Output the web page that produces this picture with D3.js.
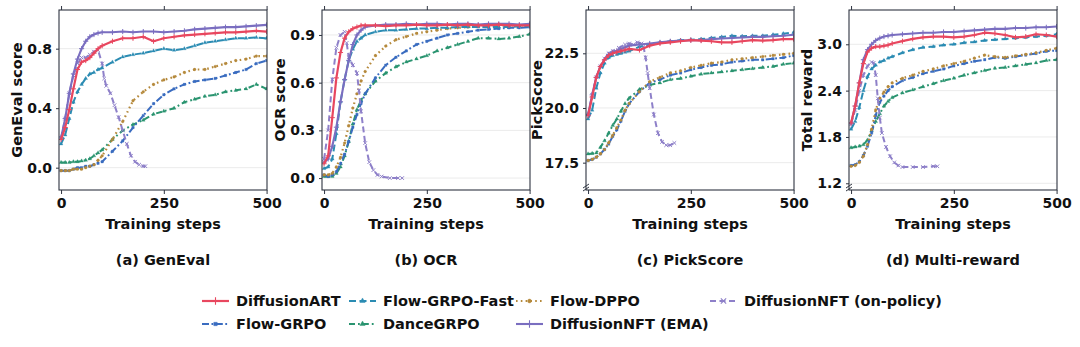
<!DOCTYPE html>
<html>
<head>
<meta charset="utf-8">
<script src="https://cdn.jsdelivr.net/npm/d3@7"></script>
<style>
  body { margin: 0; background: #fff; }
  svg { display: block; }
  text { font-family: "DejaVu Sans", sans-serif; font-weight: bold; fill: #111; }
</style>
</head>
<body>
<svg id="chart" width="1080" height="347"></svg>
<script>
// Training curves - 4 panels
const steps = [0, 10, 20, 30, 40, 50, 60, 70, 80, 90, 100, 125, 150, 175, 200, 225, 250, 275, 300, 325, 350, 375, 400, 425, 450, 475, 500];
const xTicks = [0, 250, 500];

// (a) GenEval
const artA   = [0.19, 0.27, 0.39, 0.53, 0.66, 0.71, 0.72, 0.74, 0.77, 0.80, 0.82, 0.85, 0.87, 0.87, 0.88, 0.85, 0.87, 0.88, 0.89, 0.895, 0.90, 0.905, 0.91, 0.91, 0.915, 0.92, 0.915];
const fastA  = [0.16, 0.22, 0.33, 0.44, 0.51, 0.56, 0.60, 0.63, 0.64, 0.66, 0.67, 0.71, 0.745, 0.76, 0.77, 0.785, 0.80, 0.79, 0.80, 0.82, 0.84, 0.85, 0.86, 0.87, 0.87, 0.875, 0.87];
const dppoA  = [-0.02, -0.02, -0.02, -0.01, -0.01, -0.01, 0.0, 0.01, 0.02, 0.05, 0.08, 0.19, 0.31, 0.45, 0.51, 0.56, 0.59, 0.61, 0.64, 0.66, 0.66, 0.68, 0.70, 0.72, 0.73, 0.75, 0.75];
const grpoA  = [-0.02, -0.02, -0.02, -0.01, 0.0, 0.0, 0.01, 0.01, 0.02, 0.03, 0.04, 0.11, 0.18, 0.27, 0.35, 0.43, 0.49, 0.53, 0.56, 0.58, 0.59, 0.60, 0.62, 0.64, 0.66, 0.70, 0.72];
const danceA = [0.035, 0.035, 0.035, 0.04, 0.04, 0.045, 0.05, 0.06, 0.08, 0.10, 0.12, 0.19, 0.25, 0.29, 0.32, 0.36, 0.38, 0.40, 0.44, 0.46, 0.48, 0.49, 0.51, 0.52, 0.53, 0.56, 0.53];
const emaA   = [0.20, 0.33, 0.50, 0.63, 0.73, 0.80, 0.85, 0.88, 0.895, 0.905, 0.91, 0.91, 0.915, 0.91, 0.915, 0.915, 0.91, 0.915, 0.92, 0.93, 0.935, 0.94, 0.945, 0.945, 0.95, 0.955, 0.96];
const onStepsA = [0, 10, 20, 30, 40, 50, 60, 70, 80, 90, 100, 105, 110, 120, 130, 140, 150, 160, 170, 180, 190, 200, 205];
const onA      = [0.20, 0.33, 0.50, 0.62, 0.70, 0.74, 0.74, 0.76, 0.78, 0.79, 0.70, 0.60, 0.55, 0.50, 0.42, 0.34, 0.25, 0.16, 0.08, 0.04, 0.02, 0.01, 0.01];

// (b) OCR
const artB   = [0.09, 0.14, 0.38, 0.63, 0.79, 0.88, 0.92, 0.94, 0.95, 0.96, 0.96, 0.96, 0.955, 0.96, 0.96, 0.965, 0.96, 0.96, 0.965, 0.96, 0.965, 0.96, 0.96, 0.965, 0.96, 0.96, 0.96];
const fastB  = [0.06, 0.07, 0.12, 0.28, 0.48, 0.62, 0.74, 0.81, 0.86, 0.88, 0.90, 0.92, 0.93, 0.93, 0.935, 0.94, 0.94, 0.945, 0.945, 0.95, 0.95, 0.95, 0.95, 0.95, 0.95, 0.955, 0.955];
const dppoB  = [0.02, 0.02, 0.03, 0.07, 0.13, 0.22, 0.33, 0.44, 0.53, 0.61, 0.67, 0.77, 0.83, 0.87, 0.89, 0.91, 0.92, 0.93, 0.94, 0.945, 0.95, 0.955, 0.955, 0.96, 0.96, 0.96, 0.96];
const grpoB  = [0.02, 0.01, 0.02, 0.04, 0.09, 0.15, 0.23, 0.32, 0.40, 0.47, 0.53, 0.63, 0.71, 0.76, 0.80, 0.84, 0.86, 0.88, 0.90, 0.91, 0.92, 0.93, 0.935, 0.94, 0.945, 0.945, 0.95];
const danceB = [0.01, 0.01, 0.01, 0.03, 0.07, 0.14, 0.23, 0.34, 0.43, 0.49, 0.53, 0.61, 0.66, 0.70, 0.73, 0.75, 0.77, 0.80, 0.82, 0.84, 0.86, 0.88, 0.88, 0.875, 0.88, 0.89, 0.905];
const emaB   = [0.10, 0.12, 0.20, 0.32, 0.48, 0.62, 0.74, 0.84, 0.90, 0.93, 0.95, 0.96, 0.965, 0.965, 0.97, 0.965, 0.97, 0.97, 0.965, 0.97, 0.97, 0.965, 0.97, 0.97, 0.97, 0.965, 0.97];
const onStepsB = [0, 10, 20, 30, 40, 50, 55, 60, 70, 80, 85, 90, 100, 110, 120, 130, 140, 160, 180, 190];
const onB      = [0.12, 0.30, 0.62, 0.82, 0.90, 0.92, 0.85, 0.76, 0.71, 0.66, 0.55, 0.42, 0.22, 0.10, 0.05, 0.02, 0.01, 0.0, 0.0, 0.0];

// (c) PickScore
const artC   = [19.65, 20.5, 21.4, 21.9, 22.2, 22.4, 22.5, 22.55, 22.6, 22.65, 22.7, 22.65, 22.85, 22.95, 23.0, 23.05, 23.1, 23.08, 23.05, 23.0, 23.0, 23.05, 23.1, 23.08, 23.1, 23.15, 23.15];
const fastC  = [19.5, 19.9, 20.9, 21.6, 22.05, 22.3, 22.4, 22.45, 22.5, 22.55, 22.6, 22.8, 22.9, 23.0, 23.05, 23.1, 23.12, 23.15, 23.2, 23.25, 23.3, 23.28, 23.3, 23.3, 23.35, 23.4, 23.45];
const dppoC  = [17.6, 17.65, 17.75, 17.9, 18.1, 18.4, 18.75, 19.1, 19.45, 19.9, 20.2, 20.75, 21.2, 21.4, 21.6, 21.7, 21.85, 21.95, 22.05, 22.1, 22.2, 22.25, 22.3, 22.35, 22.4, 22.45, 22.5];
const grpoC  = [17.6, 17.65, 17.75, 17.9, 18.1, 18.35, 18.7, 19.0, 19.4, 19.85, 20.2, 20.75, 21.15, 21.3, 21.5, 21.6, 21.75, 21.85, 21.95, 22.0, 22.1, 22.15, 22.2, 22.2, 22.25, 22.3, 22.4];
const danceC = [17.9, 17.92, 17.95, 18.2, 18.5, 18.85, 19.2, 19.5, 19.85, 20.2, 20.45, 20.85, 21.05, 21.15, 21.3, 21.35, 21.45, 21.55, 21.6, 21.65, 21.7, 21.75, 21.8, 21.85, 21.9, 22.0, 22.05];
const emaC   = [19.7, 20.6, 21.4, 21.9, 22.2, 22.45, 22.55, 22.62, 22.7, 22.78, 22.85, 22.9, 22.95, 23.0, 23.05, 23.08, 23.1, 23.1, 23.15, 23.18, 23.2, 23.22, 23.25, 23.25, 23.28, 23.3, 23.35];
const onStepsC = [0, 10, 20, 30, 40, 50, 60, 75, 90, 100, 110, 120, 130, 135, 140, 145, 150, 160, 170, 180, 190, 200, 210];
const onC      = [19.7, 20.6, 21.4, 21.9, 22.25, 22.5, 22.6, 22.75, 22.9, 22.95, 22.9, 23.0, 22.95, 22.8, 22.3, 21.6, 20.9, 19.7, 18.85, 18.45, 18.3, 18.3, 18.4];

// (d) Multi-reward
const artD   = [1.98, 2.2, 2.5, 2.75, 2.9, 2.95, 2.97, 2.97, 2.98, 2.99, 3.01, 3.04, 3.07, 3.09, 3.1, 3.1, 3.09, 3.1, 3.12, 3.15, 3.14, 3.12, 3.09, 3.1, 3.13, 3.12, 3.1];
const fastD  = [1.9, 2.0, 2.18, 2.4, 2.58, 2.68, 2.73, 2.77, 2.79, 2.82, 2.84, 2.89, 2.93, 2.96, 2.97, 2.99, 3.0, 3.02, 3.03, 3.05, 3.06, 3.07, 3.08, 3.09, 3.1, 3.11, 3.13];
const dppoD  = [1.42, 1.43, 1.47, 1.55, 1.7, 1.9, 2.15, 2.3, 2.38, 2.45, 2.5, 2.56, 2.6, 2.65, 2.68, 2.72, 2.75, 2.78, 2.82, 2.86, 2.84, 2.83, 2.85, 2.87, 2.89, 2.92, 2.95];
const grpoD  = [1.43, 1.44, 1.48, 1.56, 1.68, 1.85, 2.08, 2.25, 2.33, 2.4, 2.45, 2.53, 2.57, 2.62, 2.65, 2.68, 2.72, 2.75, 2.78, 2.8, 2.83, 2.82, 2.84, 2.86, 2.88, 2.91, 2.92];
const danceD = [1.66, 1.67, 1.68, 1.7, 1.76, 1.88, 2.0, 2.1, 2.2, 2.26, 2.31, 2.37, 2.41, 2.45, 2.49, 2.53, 2.56, 2.6, 2.63, 2.66, 2.69, 2.7, 2.72, 2.74, 2.76, 2.79, 2.8];
const emaD   = [1.97, 2.2, 2.5, 2.8, 2.93, 3.0, 3.05, 3.08, 3.1, 3.11, 3.12, 3.13, 3.14, 3.15, 3.15, 3.16, 3.16, 3.17, 3.18, 3.19, 3.2, 3.2, 3.21, 3.21, 3.22, 3.22, 3.23];
const onStepsD = [0, 10, 20, 30, 40, 50, 55, 60, 65, 70, 75, 85, 95, 105, 115, 125, 150, 175, 200, 210];
const onD      = [1.97, 2.15, 2.4, 2.6, 2.72, 2.77, 2.76, 2.6, 2.3, 2.05, 1.85, 1.67, 1.55, 1.47, 1.43, 1.41, 1.41, 1.41, 1.42, 1.42];

const yTicksA = [0.0, 0.4, 0.8];
const yTicksB = [0.0, 0.3, 0.6, 0.9];
const yTicksC = [17.5, 20.0, 22.5];
const yTicksD = [1.2, 1.8, 2.4, 3.0];

// estilos de cada método
const styles = {
  art:   { name: 'DiffusionART', color: '#e8475f', dash: null, symbol: d3.symbolPlus, open: true, width: 2.2 },
  fast:  { name: 'Flow-GRPO-Fast', color: '#2b8cb3', dash: '7,3.5', symbol: d3.symbolTriangle, open: false, width: 2 },
  dppo:  { name: 'Flow-DPPO', color: '#b5893b', dash: '1.6,3.2', symbol: d3.symbolCircle, open: false, width: 2.2 },
  onp:   { name: 'DiffusionNFT (on-policy)', color: '#8e80c9', dash: '6,3.5', symbol: d3.symbolTimes, open: true, width: 2 },
  grpo:  { name: 'Flow-GRPO', color: '#3a6cc0', dash: '7,2.5,1.8,2.5', symbol: d3.symbolSquare, open: false, width: 2 },
  dance: { name: 'DanceGRPO', color: '#2a9470', dash: '6,3,1.8,3', symbol: d3.symbolTriangle, open: false, width: 2 },
  ema:   { name: 'DiffusionNFT (EMA)', color: '#7a6ec0', dash: null, symbol: d3.symbolPlus, open: true, width: 2.1 }
};
const drawOrder = ['dance', 'grpo', 'dppo', 'onp', 'fast', 'ema', 'art'];

const panels = [
  { left: 59,  title: '(a) GenEval',      ylabel: 'GenEval score', labelOff: 37, yDomain: [-0.15, 1.06], yTicks: yTicksA, brk: false,
    series: { art: artA, fast: fastA, dppo: dppoA, grpo: grpoA, dance: danceA, ema: emaA }, onSteps: onStepsA, on: onA },
  { left: 322, title: '(b) OCR',          ylabel: 'OCR score', labelOff: 37, yDomain: [-0.075, 1.057], yTicks: yTicksB, brk: false,
    series: { art: artB, fast: fastB, dppo: dppoB, grpo: grpoB, dance: danceB, ema: emaB }, onSteps: onStepsB, on: onB },
  { left: 586, title: '(c) PickScore',    ylabel: 'PickScore', labelOff: 44, yDomain: [16.25, 24.48], yTicks: yTicksC, brk: true,
    series: { art: artC, fast: fastC, dppo: dppoC, grpo: grpoC, dance: danceC, ema: emaC }, onSteps: onStepsC, on: onC },
  { left: 849, title: '(d) Multi-reward', ylabel: 'Total reward', labelOff: 37, yDomain: [1.113, 3.444], yTicks: yTicksD, brk: true,
    series: { art: artD, fast: fastD, dppo: dppoD, grpo: grpoD, dance: danceD, ema: emaD }, onSteps: onStepsD, on: onD }
];

const plotTop = 10, plotH = 180, plotW = 208;
const svg = d3.select('#chart');

function drawMarkers(g, pts, st, x, y, size) {
  const sym = d3.symbol().type(st.symbol).size(size);
  g.selectAll(null)
    .data(pts)
    .enter()
    .append('path')
    .attr('d', sym)
    .attr('transform', d => `translate(${x(d[0])},${y(d[1])})`)
    .attr('fill', st.open ? 'none' : st.color)
    .attr('stroke', st.color)
    .attr('stroke-width', st.open ? 1 : 0.3);
}

panels.forEach((p, idx) => {
  const x = d3.scaleLinear().domain([-5, 501]).range([p.left, p.left + plotW]);
  const y = d3.scaleLinear().domain(p.yDomain).range([plotTop + plotH, plotTop]);
  const g = svg.append('g');

  // Grid
  g.selectAll('.grid')
    .data(p.yTicks)
    .enter()
    .append('line')
    .attr('x1', p.left).attr('x2', p.left + plotW)
    .attr('y1', d => y(d)).attr('y2', d => y(d))
    .attr('stroke', '#ebebeb')
    .attr('stroke-width', 1);

  // Curvas
  const clipId = 'clip' + idx;
  g.append('clipPath').attr('id', clipId)
    .append('rect').attr('x', p.left).attr('y', plotTop).attr('width', plotW).attr('height', plotH);
  const plot = g.append('g').attr('clip-path', `url(#${clipId})`);
  const line = d3.line().x(d => x(d[0])).y(d => y(d[1]));

  drawOrder.forEach(key => {
    const st = styles[key];
    const pts = key === 'onp'
      ? p.onSteps.map((s, i) => [s, p.on[i]])
      : steps.map((s, i) => [s, p.series[key][i]]);
    plot.append('path')
      .datum(pts)
      .attr('d', line)
      .attr('fill', 'none')
      .attr('stroke', st.color)
      .attr('stroke-width', st.width)
      .attr('stroke-dasharray', st.dash)
      .attr('stroke-linejoin', 'round');
    drawMarkers(plot, pts, st, x, y, st.open ? 10 : 6);
  });

  // Marco
  g.append('rect')
    .attr('x', p.left).attr('y', plotTop).attr('width', plotW).attr('height', plotH)
    .attr('fill', 'none').attr('stroke', '#2e3440').attr('stroke-width', 1.1);

  // Eje X
  const xAxis = g.append('g')
    .attr('transform', `translate(0,${plotTop + plotH})`)
    .call(d3.axisBottom(x).tickValues(xTicks).tickSizeOuter(0).tickSize(4).tickPadding(4));
  xAxis.select('.domain').remove();
  xAxis.selectAll('line').attr('stroke', '#2e3440');
  xAxis.selectAll('text').style('font-size', '14px').style('font-family', '"DejaVu Sans", sans-serif').attr('fill', '#111');

  const xTop = g.append('g')
    .attr('transform', `translate(0,${plotTop})`)
    .call(d3.axisTop(x).tickValues(xTicks).tickSizeOuter(0).tickSize(4).tickFormat(''));
  xTop.select('.domain').remove();
  xTop.selectAll('line').attr('stroke', '#2e3440');

  // Eje Y
  const yAxis = g.append('g')
    .attr('transform', `translate(${p.left},0)`)
    .call(d3.axisLeft(y).tickValues(p.yTicks).tickFormat(d3.format('.1f')).tickSizeOuter(0).tickSize(3).tickPadding(4));
  yAxis.select('.domain').remove();
  yAxis.selectAll('line').attr('stroke', '#2e3440');
  yAxis.selectAll('text').style('font-size', '14px').style('font-family', '"DejaVu Sans", sans-serif').attr('fill', '#111');

  // Marcas de corte
  if (p.brk) {
    [0, 3].forEach(off => {
      g.append('line')
        .attr('x1', p.left - 3).attr('y1', plotTop + plotH + 1 - off)
        .attr('x2', p.left + 3).attr('y2', plotTop + plotH - 3 - off)
        .attr('stroke', '#2e3440').attr('stroke-width', 1);
    });
  }

  // Etiquetas
  g.append('text')
    .attr('x', p.left + plotW / 2)
    .attr('y', 229)
    .attr('text-anchor', 'middle')
    .style('font-size', '14.5px')
    .text('Training steps');

  g.append('text')
    .attr('transform', `translate(${p.left - p.labelOff},${plotTop + plotH / 2}) rotate(-90)`)
    .attr('text-anchor', 'middle')
    .style('font-size', '14.5px')
    .text(p.ylabel);

  g.append('text')
    .attr('x', p.left + plotW / 2)
    .attr('y', 265)
    .attr('text-anchor', 'middle')
    .style('font-size', '14.5px')
    .text(p.title);
});

// Leyenda
const legendCols = [['art', 'grpo'], ['fast', 'dance'], ['dppo', 'ema'], ['onp']];
const colX = [202, 349, 516, 710];
const rowY = [301, 324];
legendCols.forEach((col, ci) => {
  col.forEach((key, ri) => {
    const st = styles[key];
    const lg = svg.append('g');
    const x0 = colX[ci], y0 = rowY[ri];
    lg.append('line')
      .attr('x1', x0).attr('x2', x0 + 27)
      .attr('y1', y0).attr('y2', y0)
      .attr('stroke', st.color)
      .attr('stroke-width', st.width)
      .attr('stroke-dasharray', st.dash);
    const sym = d3.symbol().type(st.symbol).size(st.open ? 20 : 12);
    lg.append('path')
      .attr('d', sym)
      .attr('transform', `translate(${x0 + 13.5},${y0})`)
      .attr('fill', st.open ? 'none' : st.color)
      .attr('stroke', st.color)
      .attr('stroke-width', st.open ? 1.1 : 0.4);
    lg.append('text')
      .attr('x', x0 + 34)
      .attr('y', y0)
      .attr('dy', '0.35em')
      .style('font-size', '14.5px')
      .text(st.name);
  });
});
</script>
</body>
</html>
